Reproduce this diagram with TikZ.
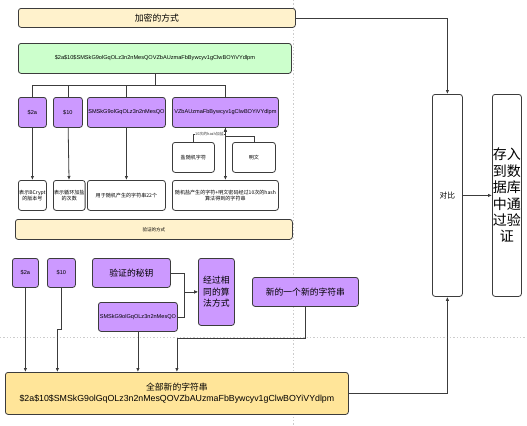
\documentclass[tikz,border=0pt]{standalone}
\usepackage{fontspec}
\setmainfont{Liberation Sans}
\newfontfamily\cjk{Noto Sans CJK SC}
\usepackage{tikz}
\usetikzlibrary{positioning,arrows.meta}
\definecolor{encyellow}{HTML}{FFF2CC}
\definecolor{fullyellow}{HTML}{FFE599}
\definecolor{hashgreen}{HTML}{CCFFCC}
\definecolor{keypurple}{HTML}{CC99FF}
\definecolor{edgegray}{HTML}{3C3C3C}
\tikzset{
  box/.style={draw=edgegray, line width=0.6pt, rounded corners=2pt, inner sep=0.5pt,
              align=center, anchor=north west, font=\fontsize{4.2}{5.2}\selectfont},
  sz/.style 2 args={minimum width=#1*0.75pt, minimum height=#2*0.75pt},
  yellowbox/.style={box, fill=encyellow},
  greenbox/.style={box, fill=hashgreen},
  purplebox/.style={box, fill=keypurple},
  whitebox/.style={box, fill=white},
  fullbox/.style={box, fill=fullyellow},
  zhtext/.style={font=\cjk\fontsize{3.8}{4.8}\selectfont},
  midtext/.style={font=\cjk\fontsize{6.6}{8.6}\selectfont},
  bigtext/.style={font=\cjk\fontsize{10.5}{12.3}\selectfont},
  line/.style={edgegray, line width=0.6pt},
  arrow/.style={line, -{Latex[length=3pt,width=2.6pt]}},
  pagebreak/.style={gray!40, line width=0.6pt, dash pattern=on 1pt off 1.5pt},
}
\begin{document}
\begin{tikzpicture}[x=0.75pt, y=-0.75pt]
  \useasboundingbox (0,0) rectangle (527,425);
  \draw[pagebreak] (293,0) -- (293,425);
  \draw[pagebreak] (0,337) -- (527,337);

  \node[yellowbox, sz={277}{19}, midtext] (enc) at (18,8) {加密的方式};
  \node[greenbox, sz={273}{30}] (hashstr) at (18,43) {\$2a\$10\$SMSkG9olGqOLz3n2nMesQOVZbAUzmaFbBywcyv1gClwBOYiVYdlpm};

  \node[purplebox, sz={28}{30}]  (p2a)   at (18,97)  {\$2a};
  \node[purplebox, sz={29}{30}]  (p10)   at (53,97)  {\$10};
  \node[purplebox, sz={78}{30}]  (psalt) at (87,97)  {SMSkG9olGqOLz3n2nMesQO};
  \node[purplebox, sz={106}{30}] (phash) at (172,97) {VZbAUzmaFbBywcyv1gClwBOYiVYdlpm};

  \node[whitebox, sz={42}{30}, zhtext] (salt)  at (172,142) {盐随机字符};
  \node[whitebox, sz={43}{30}, zhtext] (plain) at (232,142) {明文};

  \node[whitebox, sz={28}{30}, zhtext]  (n2a)   at (18,180)  {表示BCrypt\\的版本号};
  \node[whitebox, sz={29}{30}, zhtext]  (n10)   at (53,180)  {表示循环加盐\\的次数};
  \node[whitebox, sz={78}{30}, zhtext]  (nsalt) at (87,180)  {用于随机产生的字符串22个};
  \node[whitebox, sz={106}{30}, zhtext] (nhash) at (172,180) {随机盐产生的字符+明文密码经过10次的hash\\算法得到的字符串};

  \node[yellowbox, sz={277}{20}, font=\cjk\fontsize{3.4}{4}\selectfont] (verify) at (15,219) {验证的方式};

  \node[purplebox, sz={26}{29}]  (v2a)   at (12,258)  {\$2a};
  \node[purplebox, sz={28}{29}]  (v10)   at (47,258)  {\$10};
  \node[purplebox, sz={78}{29}, midtext]  (vkey)  at (92,258)  {验证的秘钥};
  \node[purplebox, sz={79}{29}]  (vsalt) at (98,302)  {SMSkG9olGqOLz3n2nMesQO};
  \node[purplebox, sz={36}{67}, midtext]  (valgo) at (198,258) {经过相\\同的算\\法方式};
  \node[purplebox, sz={106}{29}, midtext] (vnew)  at (252,277) {新的一个新的字符串};

  \node[fullbox, sz={343}{42}, midtext] (full) at (5,372) {全部新的字符串\\\rmfamily\$2a\$10\$SMSkG9olGqOLz3n2nMesQOVZbAUzmaFbBywcyv1gClwBOYiVYdlpm};

  \node[whitebox, sz={30}{202}, font=\cjk\fontsize{5.8}{7}\selectfont] (cmp) at (432,94) {对比};
  \node[whitebox, sz={29}{202}, bigtext, inner sep=0pt] (store) at (492,94) {存入\\到数\\据库\\中通\\过验\\证};

  \foreach \t in {p2a,p10,psalt,phash}
    \draw[line] (hashstr.south) -- ++(0,12) -| (\t.north);
  \foreach \t/\b in {p2a/n2a,p10/n10,psalt/nsalt,phash/nhash}
    \draw[arrow] (\t) -- (\b);
  \draw[arrow] (salt.north) -- ++(0,-8) -| node[pos=0.25, fill=white, inner sep=0.3pt,
    font=\cjk\fontsize{2.9}{3.4}\selectfont]{10次的hash加盐} (phash.south);
  \draw[arrow] (plain.north) -- ++(0,-6) -| (phash.south);

  \draw[arrow] (v2a) -- (v2a |- full.north);
  \draw[arrow] (v10.south) -- ++(0,42) -| ([xshift=-3pt]v10.south |- full.north);
  \draw[arrow] (vkey.east) -- ++(14,0) |- (valgo.west);
  \draw[arrow] (vsalt.east) -- ++(7,0) |- (valgo.west);
  \draw[arrow] (vsalt) -- (vsalt |- full.north);
  \draw[arrow] (vnew.south) -- ++(0,32) -| (full.north);

  \draw[arrow] (enc.east) -| (cmp.north);
  \draw[arrow] (full.east) -| (cmp.south);
  \draw[arrow] (cmp) -- (store);
\end{tikzpicture}
\end{document}
